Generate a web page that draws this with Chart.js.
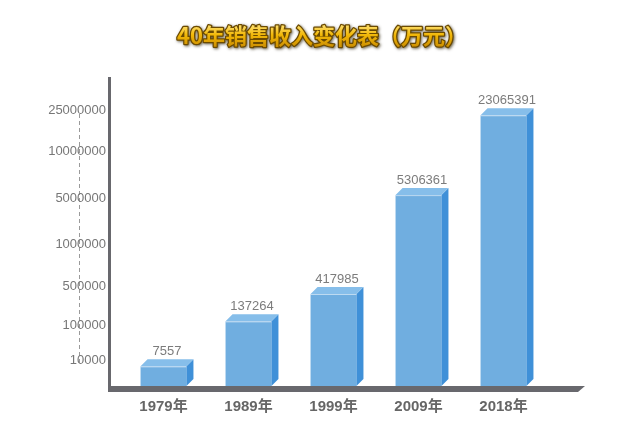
<!DOCTYPE html>
<html><head><meta charset="utf-8">
<script src="https://cdn.jsdelivr.net/npm/chart.js@4.4.1/dist/chart.umd.min.js"></script>
<style>html,body{margin:0;padding:0;background:#fff;}#wrap{width:639px;height:431px;position:relative;}</style>
</head><body><div id="wrap"><canvas id="c"></canvas></div>
<script>
const titleText = '40年销售收入变化表（万元）';
const categories = ['1979年', '1989年', '1999年', '2009年', '2018年'];
const revenue = [7557, 137264, 417985, 5306361, 23065391];
const yTickValues = [10000, 100000, 500000, 1000000, 5000000, 10000000, 25000000];
const yTopValue = 33000000;
// relative spacing of the (hand-made, uneven) value axis between successive stops
const yStopSpacing = [26, 35, 39, 42, 46, 47, 41, 33];

class SteppedScale extends Chart.LinearScale {
  determineDataLimits() { this.min = 0; this.max = yTopValue; }
  buildTicks() { return yTickValues.map(v => ({ value: v })); }
  _stops() { return [0, ...yTickValues, yTopValue]; }
  _decimalFor(value) {
    const s = this._stops(), w = yStopSpacing, total = w.reduce((a, b) => a + b, 0);
    let acc = 0;
    for (let i = 0; i < s.length - 1; i++) {
      if (value <= s[i + 1] || i === s.length - 2) return (acc + w[i] * (value - s[i]) / (s[i + 1] - s[i])) / total;
      acc += w[i];
    }
    return 1;
  }
  getPixelForValue(v) { return this.getPixelForDecimal(this._decimalFor(v)); }
  getValueForPixel(p) {
    const d = this.getDecimalForPixel(p);
    const s = this._stops(), w = yStopSpacing, total = w.reduce((a, b) => a + b, 0);
    let acc = 0;
    for (let i = 0; i < s.length - 1; i++) {
      const f = w[i] / total;
      if (d <= acc + f || i === s.length - 2) return s[i] + (d - acc) / f * (s[i + 1] - s[i]);
      acc += f;
    }
    return yTopValue;
  }
}
SteppedScale.id = 'stepped';
SteppedScale.defaults = {};
Chart.register(SteppedScale);

const DEPTH = 7;
const bar3d = {
  id: 'bar3d',
  beforeDraw(chart) {
    const { ctx, chartArea: a, scales: { y } } = chart;
    ctx.save();
    ctx.strokeStyle = '#9a9a9a';
    ctx.lineWidth = 1;
    ctx.setLineDash([4, 3]);
    const x0 = Math.round(a.left - 42) + 0.5;
    ctx.beginPath();
    ctx.moveTo(x0, y.getPixelForValue(yTickValues[yTickValues.length - 1]) + 4);
    ctx.lineTo(x0, y.getPixelForValue(yTickValues[0]) + 4);
    ctx.stroke();
    ctx.restore();
  },
  afterDatasetsDraw(chart) {
    const { ctx, chartArea: a } = chart;
    const meta = chart.getDatasetMeta(0);
    ctx.save();
    meta.data.forEach((bar, i) => {
      const p = bar.getProps(['x', 'y', 'base', 'width'], true);
      const l = p.x - p.width / 2, r = p.x + p.width / 2, t = p.y, b = p.base;
      ctx.fillStyle = '#3F90D8';
      ctx.beginPath();
      ctx.moveTo(r, t); ctx.lineTo(r + DEPTH, t - DEPTH); ctx.lineTo(r + DEPTH, b - DEPTH); ctx.lineTo(r, b);
      ctx.closePath(); ctx.fill();
      ctx.fillStyle = '#86BEEA';
      ctx.beginPath();
      ctx.moveTo(l, t); ctx.lineTo(l + DEPTH, t - DEPTH); ctx.lineTo(r + DEPTH, t - DEPTH); ctx.lineTo(r, t);
      ctx.closePath(); ctx.fill();
      ctx.strokeStyle = 'rgba(255,255,255,0.55)';
      ctx.lineWidth = 1;
      ctx.beginPath(); ctx.moveTo(l, t + 0.5); ctx.lineTo(r, t + 0.5); ctx.stroke();
      ctx.fillStyle = '#7c7c7c';
      ctx.font = '13px "Liberation Sans", Arial, sans-serif';
      ctx.textAlign = 'center';
      ctx.textBaseline = 'alphabetic';
      ctx.fillText(String(revenue[i]), p.x + DEPTH / 2, t - DEPTH - 4);
    });
    ctx.fillStyle = '#68686d';
    ctx.fillRect(a.left - 13, a.top, 3, a.bottom - a.top + 6);
    ctx.beginPath();
    ctx.moveTo(a.left - 13, a.bottom);
    ctx.lineTo(a.right + 39, a.bottom);
    ctx.lineTo(a.right + 32, a.bottom + 6);
    ctx.lineTo(a.left - 13, a.bottom + 6);
    ctx.closePath(); ctx.fill();
    ctx.restore();
  },
  afterDraw(chart) {
    const { ctx } = chart;
    ctx.save();
    const cx = 322, cy = 36;
    ctx.font = 'bold 22px "Noto Sans CJK SC", sans-serif';
    ctx.textAlign = 'center';
    ctx.textBaseline = 'middle';
    const g = ctx.createLinearGradient(0, cy - 12, 0, cy + 12);
    g.addColorStop(0, '#FFE47A');
    g.addColorStop(0.45, '#F2B808');
    g.addColorStop(1, '#C98B00');
    ctx.shadowColor = 'rgba(40,30,0,0.7)';
    ctx.shadowBlur = 3;
    ctx.shadowOffsetX = 1;
    ctx.shadowOffsetY = 1;
    ctx.lineJoin = 'round';
    ctx.strokeStyle = '#6b4a00';
    ctx.lineWidth = 2.5;
    ctx.strokeText(titleText, cx, cy);
    ctx.shadowColor = 'transparent';
    ctx.fillStyle = g;
    ctx.fillText(titleText, cx, cy);
    ctx.restore();
  }
};

new Chart(document.getElementById('c'), {
  type: 'bar',
  data: {
    labels: categories,
    datasets: [{
      data: revenue,
      backgroundColor: '#70AEE0',
      borderWidth: 0,
      categoryPercentage: 1,
      barPercentage: 0.54
    }]
  },
  options: {
    responsive: true,
    maintainAspectRatio: false,
    animation: false,
    events: [],
    layout: { padding: { left: 0, right: 93, top: 77, bottom: 0 } },
    plugins: { legend: { display: false }, title: { display: false }, tooltip: { enabled: false } },
    scales: {
      x: {
        grid: { display: false, drawTicks: false },
        border: { display: false },
        ticks: { color: '#666', padding: 12, font: { family: '"Liberation Sans", "Noto Sans CJK SC", sans-serif', size: 15, weight: 'bold' } },
        afterFit(s) { s.height = 45; }
      },
      y: {
        type: 'stepped',
        grid: { display: false, drawTicks: false },
        border: { display: false },
        ticks: {
          autoSkip: false,
          color: '#777',
          padding: 15,
          font: { family: '"Liberation Sans", Arial, sans-serif', size: 13 },
          callback: v => String(v)
        },
        afterFit(s) { s.width = 121; }
      }
    }
  },
  plugins: [bar3d]
});
</script>
</body></html>
